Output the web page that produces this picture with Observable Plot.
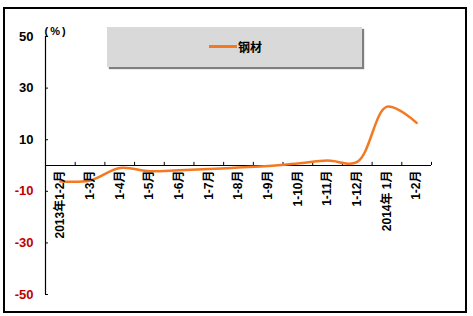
<!DOCTYPE html>
<html><head><meta charset="utf-8">
<script src="https://cdn.jsdelivr.net/npm/d3@7"></script>
<script src="https://cdn.jsdelivr.net/npm/@observablehq/plot@0.6"></script>
<style>
body{margin:0;background:#fff;}
#wrap{position:relative;width:473px;height:316px;}
#border{position:absolute;left:3px;top:7px;width:460px;height:302px;border:2px solid #000;}
#legend{position:absolute;left:107px;top:27px;width:255px;height:40px;background:#d9d9d9;box-shadow:2px 2px 1px #7f7f7f;font:bold 12px "Liberation Sans","Noto Sans CJK SC",sans-serif;}
#legend .sw{position:absolute;left:102px;top:18px;width:28px;height:2.5px;background:#f47920;}
#legend .lb{position:absolute;left:131px;top:11px;}
#chart{position:absolute;left:0;top:0;}
.pct text{letter-spacing:2px;}
</style></head>
<body><div id="wrap"><div id="border"></div><div id="chart"></div><div id="legend"><div class="sw"></div><div class="lb">钢材</div></div></div>
<script>
const categories = ["2013年1-2月","1-3月","1-4月","1-5月","1-6月","1-7月","1-8月","1-9月","1-10月","1-11月","1-12月","2014年 1月","1-2月"];
const values = [-6.2, -5.8, -1.0, -2.2, -1.8, -1.4, -0.8, -0.2, 0.8, 1.9, 1.4, 22.8, 16.5];
const yTicks = [50, 30, 10, -10, -30, -50];
const xTickPos = d3.range(1, categories.length + 1);
const seriesName = "钢材";

const chart = Plot.plot({
  width: 473, height: 316,
  marginLeft: 45, marginRight: 42, marginTop: 36, marginBottom: 22,
  x: {domain: [0, categories.length], axis: null},
  y: {domain: [-50, 50], axis: null},
  style: {background: "transparent", fontFamily: "'Liberation Sans','Noto Sans CJK SC',sans-serif"},
  marks: [
    Plot.ruleX([0], {x: d => d, y1: -50, y2: 50, stroke: "#000", strokeWidth: 1.2}),
    Plot.ruleY([0], {y: d => d, x1: 0, x2: categories.length, stroke: "#000", strokeWidth: 1.2}),
    Plot.ruleY(yTicks, {y: d => d, x1: 0, x2: 0.1, stroke: "#000"}),
    Plot.ruleX(xTickPos, {x: d => d, y1: 0, y2: 1.2, stroke: "#000"}),
    Plot.line(values, {x: (d, i) => i + 0.5, y: d => d, curve: "catmull-rom", stroke: "#f47920", strokeWidth: 2.5}),
    Plot.text(categories, {x: (d, i) => i + 0.5, y: () => 0, text: d => d, rotate: -90, textAnchor: "end", dy: 5, fontSize: 12, fontWeight: "bold", fill: "#000"}),
    Plot.text(yTicks, {y: d => d, text: d => String(d), frameAnchor: "left", dx: -12, textAnchor: "end", fontSize: 13, fontWeight: "bold", fill: d => d < 0 ? "#c00000" : "#000"}),
    Plot.text(["(%)"], {text: d => d, frameAnchor: "top-left", dy: -9, dx: -1, textAnchor: "start", fontSize: 11, fontWeight: "bold", fill: "#000", className: "pct"})
  ]
});
document.getElementById("chart").appendChild(chart);
</script></body></html>
